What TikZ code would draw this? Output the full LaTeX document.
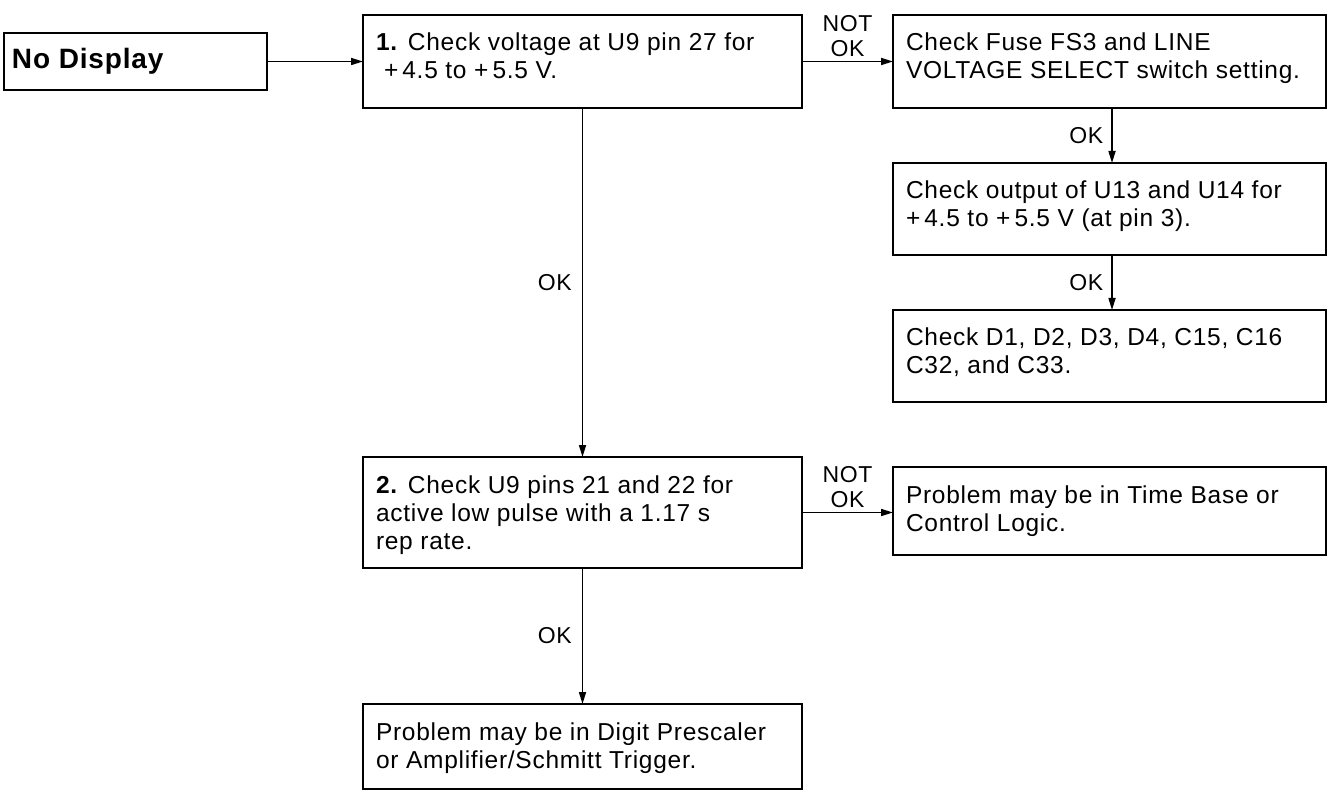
\documentclass[tikz,border=0pt]{standalone}
\usepackage{fontspec}
\setmainfont[LetterSpace=3]{Liberation Sans}
\usetikzlibrary{arrows.meta}
\tikzset{
  box/.style={draw, line width=2.8pt, anchor=north west, inner xsep=13pt, inner ysep=0pt, outer sep=0pt},
  arr/.style={line width=1.6pt, -{Triangle[length=12pt,width=7pt]}},
  lbl/.style={font=\fontsize{23}{25}\selectfont, inner sep=0pt, align=center},
}
\newcommand{\bt}[3]{\parbox[c][#1][t]{#2}{\raggedright\fontsize{24.5}{28}\selectfont\rule{0pt}{36pt}#3}}
\begin{document}
\begin{tikzpicture}[x=1pt,y=-1pt]
\useasboundingbox (0,0) rectangle (1330,791);
\coordinate (ax) at (1112,0);
\node[box, inner xsep=8pt] (nd) at (4,33) {\parbox[c][57pt][t]{247pt}{\fontsize{28}{30}\selectfont\bfseries\rule{0pt}{36pt}No Display}};
\node[box] (b1) at (363,15) {\bt{93pt}{413pt}{\textbf{1.}\hspace{10pt}Check voltage at U9 pin 27 for\\\hspace{8pt}+\,4.5 to +\,5.5 V.}};
\node[box] (fs3) at (893,15) {\bt{93pt}{407pt}{Check Fuse FS3 and LINE\\VOLTAGE SELECT switch setting.}};
\node[box] (u13) at (893,163) {\bt{92pt}{407pt}{Check output of U13 and U14 for\\+\,4.5 to +\,5.5 V (at pin 3).}};
\node[box] (d1) at (893,310) {\bt{92pt}{407pt}{Check D1, D2, D3, D4, C15, C16\\C32, and C33.}};
\node[box] (b2) at (363,457) {\bt{111pt}{413pt}{\textbf{2.}\hspace{10pt}Check U9 pins 21 and 22 for\\active low pulse with a 1.17 s\\rep rate.}};
\node[box] (tb) at (893,467) {\bt{88pt}{407pt}{Problem may be in Time Base or\\Control Logic.}};
\node[box] (b3) at (363,704) {\bt{85pt}{413pt}{Problem may be in Digit Prescaler\\or Amplifier/Schmitt Trigger.}};

\draw[arr] (nd.east) -- (b1.west);
\draw[arr] (b1.east) -- (fs3.west) node[lbl, midway, above=4pt] {NOT\\OK};
\draw[arr] (fs3.south -| ax) -- (u13.north -| ax) node[lbl, midway, left=8pt] {OK};
\draw[arr] (u13.south -| ax) -- (d1.north -| ax) node[lbl, midway, left=8pt] {OK};
\draw[arr] (b1.south) -- (b2.north) node[lbl, midway, left=10pt] {OK};
\draw[arr] (b2.east) -- (b2.east -| tb.west) node[lbl, midway, above=4pt] {NOT\\OK};
\draw[arr] (b2.south) -- (b3.north) node[lbl, midway, left=10pt] {OK};
\end{tikzpicture}
\end{document}
